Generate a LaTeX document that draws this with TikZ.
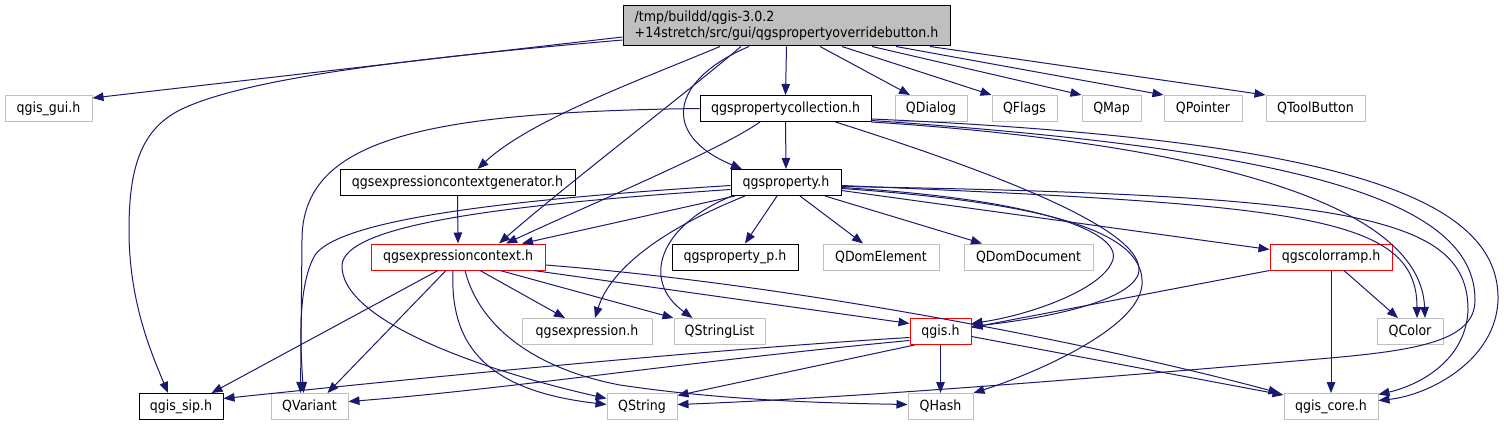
\documentclass[tikz,border=0pt]{standalone}
\usepackage{fontspec}
\setmainfont{DejaVu Sans}[FakeStretch=0.9]
\usetikzlibrary{arrows.meta}
\definecolor{edgeblue}{HTML}{191970}
\definecolor{extgray}{HTML}{BFBFBF}
\definecolor{rootfill}{HTML}{BFBFBF}
\begin{document}
\begin{tikzpicture}[x=1pt,y=-1pt,font=\fontsize{14}{16}\selectfont,
  box/.style={draw, line width=1pt, inner sep=0pt, minimum height=26pt, text=black},
  rootbox/.style={box, draw=black, fill=rootfill, align=left, minimum height=40pt},
  docbox/.style={box, draw=black},
  extbox/.style={box, draw=extgray},
  truncbox/.style={box, draw=red},
  edge/.style={draw=edgeblue, line width=1pt, -{Triangle[length=11pt,width=8.5pt]}}]
\fill[white] (0,0) rectangle (1504,425);
\useasboundingbox (0,0) rectangle (1504,425);
% nodes
\node[rootbox, minimum width=327pt] (root) at (786.5,26) {/tmp/buildd/qgis-3.0.2\\+14stretch/src/gui/qgspropertyoverridebutton.h};
\node[extbox, minimum width=87pt] (qgisgui) at (48.5,108.5) {qgis\_gui.h};
\node[docbox, minimum width=171pt] (pcoll) at (785.5,108.5) {qgspropertycollection.h};
\node[extbox, minimum width=72pt] (qdialog) at (931,108.5) {QDialog};
\node[extbox, minimum width=65pt] (qflags) at (1024.5,108.5) {QFlags};
\node[extbox, minimum width=59pt] (qmap) at (1111.5,108.5) {QMap};
\node[extbox, minimum width=78pt] (qpointer) at (1203,108.5) {QPointer};
\node[extbox, minimum width=99pt] (qtoolbutton) at (1315.5,108.5) {QToolButton};
\node[docbox, minimum width=235pt] (gen) at (457.5,182.5) {qgsexpressioncontextgenerator.h};
\node[docbox, minimum width=110pt] (prop) at (786,182.5) {qgsproperty.h};
\node[truncbox, minimum width=174pt] (ectx) at (458,257) {qgsexpressioncontext.h};
\node[docbox, minimum width=126pt] (propp) at (735,257) {qgsproperty\_p.h};
\node[extbox, minimum width=116pt] (qdomel) at (881,257) {QDomElement};
\node[extbox, minimum width=129pt] (qdomdoc) at (1028.5,257) {QDomDocument};
\node[truncbox, minimum width=122pt] (ramp) at (1331,257) {qgscolorramp.h};
\node[extbox, minimum width=130pt] (expr) at (587,331.5) {qgsexpression.h};
\node[extbox, minimum width=91pt] (qsl) at (719.5,331.5) {QStringList};
\node[truncbox, minimum width=61pt] (qgis) at (940.5,331.5) {qgis.h};
\node[extbox, minimum width=66pt] (qcolor) at (1410,331.5) {QColor};
\node[docbox, minimum width=84pt] (sip) at (181,406.5) {qgis\_sip.h};
\node[extbox, minimum width=77pt] (qvariant) at (309.5,406.5) {QVariant};
\node[extbox, minimum width=70pt] (qstring) at (642,406.5) {QString};
\node[extbox, minimum width=65pt] (qhash) at (940.5,406.5) {QHash};
\node[extbox, minimum width=94pt] (qcore) at (1331,406.5) {qgis\_core.h};
% root edges
\draw[edge] ([yshift=-11pt]root.west) -- ([yshift=-3pt]qgisgui.north east);
\draw[edge] ([yshift=-14pt]root.west) .. controls (450,55) and (250,75) .. (180,110) .. controls (140,130) and (129,170) .. (129,230) .. controls (129,300) and (150,350) .. ([xshift=-13pt]sip.north);
\draw[edge] ([xshift=-66.5pt]root.south) .. controls (640,80) and (530,120) .. ([xshift=20pt]gen.north);
\draw[edge] ([xshift=-45.5pt]root.south) .. controls (690,90) and (560,190) .. ([xshift=41pt]ectx.north);
\draw[edge] ([xshift=-37.5pt]root.south) .. controls (670,80) and (660,135) .. ([xshift=-44pt]prop.north);
\draw[edge] (root.south) -- (pcoll.north);
\draw[edge] ([xshift=33.5pt]root.south) -- ([xshift=-21pt]qdialog.north);
\draw[edge] ([xshift=55.5pt]root.south) -- (qflags.north west);
\draw[edge] ([xshift=85.5pt]root.south) -- (qmap.north west);
\draw[edge] ([xshift=109.5pt]root.south) -- (qpointer.north west);
\draw[edge] ([xshift=143.5pt]root.south) -- (qtoolbutton.north west);
% qgspropertycollection.h edges
\draw[edge] (pcoll.west) .. controls (420,112) and (302,140) .. (302,240) -- ([xshift=-9pt]qvariant.north);
\draw[edge] ([xshift=-25.5pt]pcoll.south) .. controls (720,150) and (600,200) .. ([xshift=48pt]ectx.north);
\draw[edge] (pcoll.south) -- (prop.north);
\draw[edge] ([xshift=50pt]pcoll.south) .. controls (1050,190) and (1150,240) .. (1138,275) .. controls (1125,305) and (1030,320) .. ([yshift=5pt]qgis.east);
\draw[edge] (pcoll.south east) .. controls (1150,140) and (1420,190) .. ([xshift=15pt]qcolor.north);
\draw[edge] ([yshift=3pt]pcoll.south east) .. controls (1350,140) and (1500,200) .. (1498,300) .. controls (1496,360) and (1430,395) .. ([yshift=6pt]qcore.east);
\draw[edge] ([yshift=1.5pt]pcoll.south east) .. controls (1300,150) and (1475,200) .. (1475,300) .. controls (1475,340) and (1420,350) .. (1330,358) .. controls (1100,378) and (850,398) .. ([yshift=2pt]qstring.east);
% qgsproperty.h edges
\draw[edge] ([yshift=-3pt]prop.east) .. controls (1300,205) and (1417,215) .. ([xshift=7pt]qcolor.north);
\draw[edge] ([yshift=-4pt]prop.east) .. controls (1350,195) and (1468,215) .. (1468,310) .. controls (1466,360) and (1420,385) .. ([yshift=12pt]qcore.east);
\draw[edge] ([yshift=-5pt]prop.east) .. controls (1050,200) and (1125,235) .. (1112,262) .. controls (1100,290) and (1030,315) .. ([yshift=8pt]qgis.east);
\draw[edge] ([yshift=-6pt]prop.east) .. controls (1080,205) and (1145,240) .. (1142,285) .. controls (1138,330) and (1030,375) .. (qhash.north east);
\draw[edge] ([yshift=-8pt]prop.east) -- ([yshift=-6pt]ramp.north west);
\draw[edge] ([xshift=-51pt]prop.south) -- ([xshift=64pt]ectx.north);
\draw[edge] ([yshift=-3pt]prop.west) .. controls (500,200) and (340,220) .. (315,255) .. controls (298,285) and (300,340) .. ([xshift=-6pt]qvariant.north);
\draw[edge] ([yshift=-7pt]prop.west) .. controls (500,205) and (345,225) .. (342,265) .. controls (340,320) and (480,370) .. ([yshift=8pt]qstring.west);
\draw[edge] ([xshift=-41pt]prop.south) .. controls (660,230) and (610,270) .. ([xshift=8pt]expr.north);
\draw[edge] ([xshift=-54pt]prop.south) .. controls (660,225) and (640,280) .. ([xshift=-27pt]qsl.north);
\draw[edge] ([xshift=-9pt]prop.south) -- ([xshift=10pt]propp.north);
\draw[edge] ([xshift=14pt]prop.south) -- ([xshift=-18pt]qdomel.north);
\draw[edge] ([xshift=39pt]prop.south) -- ([xshift=-46.5pt]qdomdoc.north);
% generator
\draw[edge] (gen.south) -- (ectx.north);
% qgsexpressioncontext.h edges
\draw[edge] ([xshift=-20pt]ectx.south) -- ([xshift=-12pt]sip.north east);
\draw[edge] ([xshift=-12pt]ectx.south) -- ([xshift=18pt]qvariant.north);
\draw[edge] ([xshift=-5pt]ectx.south) .. controls (450,340) and (480,390) .. ([yshift=2pt]qstring.west);
\draw[edge] ([xshift=7pt]ectx.south) .. controls (480,330) and (540,370) .. (620,385) .. controls (720,400) and (820,403) .. ([yshift=2pt]qhash.west);
\draw[edge] ([xshift=22pt]ectx.south) -- ([xshift=-22pt]expr.north);
\draw[edge] ([xshift=42pt]ectx.south) -- (qsl.north west);
\draw[edge] ([xshift=-12pt]ectx.south east) -- ([yshift=8pt]qgis.west);
\draw[edge] ([yshift=-8pt]ectx.east) .. controls (800,285) and (1100,345) .. ([xshift=-4pt]qcore.north west);
% qgis.h edges
\draw[edge] ([yshift=-6pt]qgis.west) .. controls (700,350) and (400,380) .. ([yshift=8pt]sip.east);
\draw[edge] ([yshift=-9pt]qgis.west) .. controls (700,360) and (500,390) .. ([yshift=5pt]qvariant.east);
\draw[edge] ([xshift=-26pt]qgis.south) -- ([yshift=11pt]qstring.east);
\draw[edge] (qgis.south) -- (qhash.north);
\draw[edge] ([yshift=-5pt]qgis.east) -- ([yshift=-2pt]qcore.north west);
% qgscolorramp.h edges
\draw[edge] (ramp.south west) -- ([yshift=4pt]qgis.east);
\draw[edge] (ramp.south) -- (qcore.north);
\draw[edge] ([xshift=13pt]ramp.south) -- ([xshift=-12pt]qcolor.north);
\end{tikzpicture}
\end{document}
